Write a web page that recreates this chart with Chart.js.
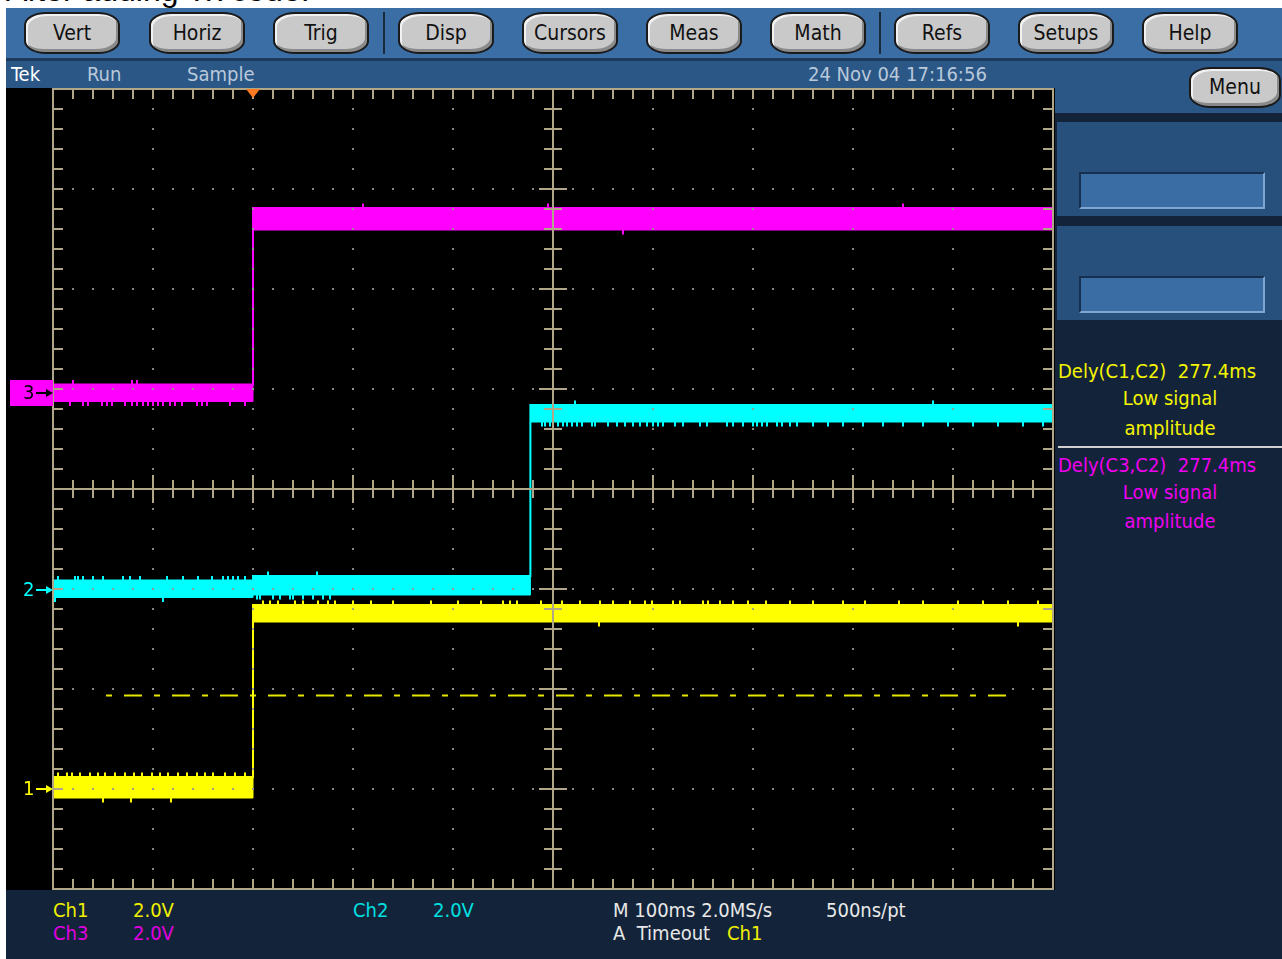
<!DOCTYPE html>
<html>
<head>
<meta charset="utf-8">
<script src="https://cdn.jsdelivr.net/npm/chart.js@4.4.1/dist/chart.umd.min.js"></script>
<style>
body{margin:0;width:1282px;height:959px;overflow:hidden;background:#fff;position:relative;
font-family:"Liberation Sans Narrow","DejaVu Sans Condensed","Arial Narrow",sans-serif;}
.abs{position:absolute;}
#caption{left:6px;top:0;width:600px;height:8px;overflow:hidden;}
#caption span{position:absolute;left:0;top:-28px;font:32px "Liberation Sans",Arial,sans-serif;color:#000;white-space:nowrap;}
#bar{left:6px;top:8px;width:1276px;height:50px;background:#3a6ea5;}
#barline{left:6px;top:58px;width:1276px;height:3px;background:#1b3a5e;}
#status{left:6px;top:61px;width:1276px;height:27px;background:#2b5787;}
#statusR{left:1055px;top:61px;width:227px;height:52px;background:#2b5787;}
#right{left:1055px;top:113px;width:227px;height:777px;background:#13243a;}
#bottom{left:6px;top:890px;width:1276px;height:69px;background:#13243a;}
.btn{position:absolute;height:38px;width:92px;background:#c9c9c9;border:2px solid #1a1a1a;
border-radius:22px/13px;box-shadow:inset 2px 2px 0 #f2f2f2,inset -2px -3px 0 #8a8a8a;
text-align:center;line-height:38px;font-size:21px;color:#111;}
.sep{position:absolute;top:12px;width:2px;height:42px;background:#1a2a3a;}
.txt{position:absolute;font-size:20px;white-space:nowrap;line-height:20px;}
.box{position:absolute;left:1057px;width:225px;height:94px;background:#27507c;}
.inner{position:absolute;left:1079px;width:186px;height:37px;background:#3a6da3;
border-top:2px solid #183050;border-left:2px solid #183050;border-bottom:2px solid #7fa6cf;border-right:2px solid #7fa6cf;box-sizing:border-box;}
#scope{position:absolute;left:6px;top:88px;}
</style>
</head>
<body>
<div id="caption" class="abs"><span>After adding Tx code.</span></div>
<div id="bar" class="abs"></div>
<div id="barline" class="abs"></div>
<div id="status" class="abs"></div>
<div id="statusR" class="abs"></div>
<div id="right" class="abs"></div>
<div id="bottom" class="abs"></div>

<div class="btn" style="left:24px;top:12px">Vert</div>
<div class="btn" style="left:149px;top:12px">Horiz</div>
<div class="btn" style="left:273px;top:12px">Trig</div>
<div class="sep" style="left:383px"></div>
<div class="btn" style="left:398px;top:12px">Disp</div>
<div class="btn" style="left:522px;top:12px">Cursors</div>
<div class="btn" style="left:646px;top:12px">Meas</div>
<div class="btn" style="left:770px;top:12px">Math</div>
<div class="sep" style="left:879px"></div>
<div class="btn" style="left:894px;top:12px">Refs</div>
<div class="btn" style="left:1018px;top:12px">Setups</div>
<div class="btn" style="left:1142px;top:12px">Help</div>

<div class="txt" style="left:11px;top:64px;color:#fff">Tek</div>
<div class="txt" style="left:87px;top:64px;color:#b9c9da">Run</div>
<div class="txt" style="left:187px;top:64px;color:#b9c9da">Sample</div>
<div class="txt" style="left:808px;top:64px;color:#b9c9da">24 Nov 04 17:16:56</div>
<div class="btn" style="left:1189px;top:67px;width:88px;height:37px;line-height:37px">Menu</div>

<div class="box" style="top:122px"></div>
<div class="inner" style="top:172px"></div>
<div class="box" style="top:226px"></div>
<div class="inner" style="top:276px"></div>

<div class="txt" style="left:1058px;top:361px;color:#f5f500">Dely(C1,C2)&nbsp;&nbsp;277.4ms</div>
<div class="txt" style="left:1058px;top:388px;width:224px;text-align:center;color:#f5f500">Low signal</div>
<div class="txt" style="left:1058px;top:418px;width:224px;text-align:center;color:#f5f500">amplitude</div>
<div class="abs" style="left:1058px;top:446px;width:224px;height:2px;background:#d0d0d0"></div>
<div class="txt" style="left:1058px;top:455px;color:#f000f0">Dely(C3,C2)&nbsp;&nbsp;277.4ms</div>
<div class="txt" style="left:1058px;top:482px;width:224px;text-align:center;color:#f000f0">Low signal</div>
<div class="txt" style="left:1058px;top:511px;width:224px;text-align:center;color:#f000f0">amplitude</div>

<div class="txt" style="left:53px;top:900px;color:#f0f000">Ch1</div>
<div class="txt" style="left:133px;top:900px;color:#f0f000">2.0V</div>
<div class="txt" style="left:53px;top:923px;color:#e000e0">Ch3</div>
<div class="txt" style="left:133px;top:923px;color:#e000e0">2.0V</div>
<div class="txt" style="left:353px;top:900px;color:#00e0e0">Ch2</div>
<div class="txt" style="left:433px;top:900px;color:#00e0e0">2.0V</div>
<div class="txt" style="left:613px;top:900px;color:#e8e8e8">M 100ms 2.0MS/s</div>
<div class="txt" style="left:826px;top:900px;color:#e8e8e8">500ns/pt</div>
<div class="txt" style="left:613px;top:923px;color:#e8e8e8">A&nbsp;&nbsp;Timeout</div>
<div class="txt" style="left:727px;top:923px;color:#f0f000">Ch1</div>

<canvas id="scope" width="1049" height="802"></canvas>

<script>
// horizontal: 100 ms/div, 10 divs; vertical: 2.0 V/div, 8 divs
var msPerDiv = 100;
var voltsPerDiv = 2.0;

// ground marker position of each channel, in divisions from centre
var ch1Offset = -3.0;
var ch2Offset = -1.01;
var ch3Offset = 0.96;

// measured delay between the edges
var delayMs = 277.4;
var ch1Edge = 200;

// ch1 (yellow)
var ch1Time  = [0, ch1Edge, 1000];
var ch1Level = [0.03, 3.51, 3.51];
var ch1Noise = [0.21, 0.17, 0.17];
var ch1SpikeUp = [5, 14, 19, 27, 37, 45, 52, 62, 72, 81, 89, 99, 107, 115, 125, 134, 144, 152, 160, 172, 182, 192,
  210, 217, 225, 242, 250, 265, 275, 282, 300, 318, 340, 378, 405, 428, 450, 457, 464, 488, 509, 527, 547, 560,
  577, 592, 599, 620, 627, 650, 655, 667, 680, 695, 713, 737, 760, 790, 812, 846, 870, 905, 930, 955, 985];
var ch1SpikeDown = [50, 78, 118, 546, 965];

// ch2 (cyan)
var ch2Time  = [0, 200, ch1Edge + delayMs, 1000];
var ch2Level = [0.02, 0.09, 3.53, 3.53];
var ch2Noise = [0.17, 0.19, 0.17, 0.17];
var ch2SpikeUp = [5, 22, 25, 30, 40, 50, 70, 77, 87, 114, 130, 145, 159, 170, 175, 180, 185, 192, 215, 264, 522, 880];
var ch2SpikeDown = [2, 110, 204, 207, 220, 227, 237, 240, 250, 260, 270, 277, 489, 492, 497, 505, 510, 514, 519,
  524, 529, 539, 542, 555, 564, 572, 580, 587, 594, 600, 605, 610, 622, 630, 647, 654, 674, 680, 690, 700, 704,
  709, 714, 724, 729, 737, 744, 760, 775, 790, 810, 830, 850, 870, 895, 920, 945, 970, 990];

// ch3 (magenta)
var ch3Time  = [0, 200, 1000];
var ch3Level = [0.0, 3.48, 3.48];
var ch3Noise = [0.17, 0.22, 0.22];
var ch3SpikeUp = [20, 79, 84, 310, 495, 850];
var ch3SpikeDown = [17, 30, 35, 49, 54, 59, 72, 79, 84, 90, 95, 100, 105, 110, 117, 122, 129, 144, 149, 154, 177, 192, 570];

// trigger level on ch1
var trigLevel = 1.87;
var trigSpan = [53, 955];

var YELLOW = '#ffff00', CYAN = '#00ffff', MAGENTA = '#ff00ff';
var GRAT = 'rgba(176,166,136,1)';

function edge(times, levels, noise, sign){
  return times.map(function(t, i){ return {x: t, y: levels[i] + sign * noise[i]}; });
}

// index of the step that holds at time t
function stepAt(times, t){
  var k = 0;
  for (var i = 0; i < times.length; i++) if (times[i] <= t) k = i;
  return k;
}

function bandSets(times, levels, noise, color, axis){
  return [
    {data: edge(times, levels, noise, 1), yAxisID: axis, borderColor: color, borderWidth: 2,
     stepped: true, pointRadius: 0, fill: false},
    {data: edge(times, levels, noise, -1), yAxisID: axis, borderColor: color, borderWidth: 1,
     stepped: true, pointRadius: 0, fill: '-1', backgroundColor: color}
  ];
}

// short glitches sticking out of the band edge
function spikeSet(times, levels, noise, spikes, sign, color, axis){
  return {
    type: 'scatter', yAxisID: axis,
    data: spikes.map(function(t){
      var k = stepAt(times, t);
      return {x: t, y: levels[k] + sign * (noise[k] + 0.04)};
    }),
    pointStyle: 'line', rotation: 90, pointRadius: 2.5, borderWidth: 2,
    borderColor: color, backgroundColor: color, showLine: false
  };
}

function chAxis(off){
  return {type: 'linear', display: false, min: (-4 - off) * voltsPerDiv, max: (4 - off) * voltsPerDiv};
}

// graticule, channel markers, trigger marker
var scopePlugin = {
  id: 'scope',
  afterDatasetsDraw: function(chart){
    var ctx = chart.ctx, a = chart.chartArea;
    var xs = chart.scales.x, ys = chart.scales.y;
    ctx.save();
    // dotted division lines
    ctx.fillStyle = 'rgba(150,150,150,0.9)';
    for (var d = 1; d < 10; d++){
      if (d === 5) continue;
      var px = Math.round(xs.getPixelForValue(d * msPerDiv));
      for (var v = -4; v <= 4.001; v += 0.2){
        ctx.fillRect(px - 1, Math.round(ys.getPixelForValue(v)) - 1, 2, 2);
      }
    }
    for (var dv = -3; dv <= 3; dv++){
      if (dv === 0) continue;
      var py = Math.round(ys.getPixelForValue(dv));
      for (var t = 0; t <= 1000; t += 20){
        ctx.fillRect(Math.round(xs.getPixelForValue(t)) - 1, py - 1, 2, 2);
      }
    }
    ctx.strokeStyle = GRAT;
    ctx.lineWidth = 2;
    // centre lines
    var cx = Math.round(xs.getPixelForValue(500)), cy = Math.round(ys.getPixelForValue(0));
    ctx.beginPath();
    ctx.moveTo(a.left, cy); ctx.lineTo(a.right, cy);
    ctx.moveTo(cx, a.top); ctx.lineTo(cx, a.bottom);
    for (var t2 = 20; t2 < 1000; t2 += 20){
      var x2 = Math.round(xs.getPixelForValue(t2));
      var h = (t2 % 100 === 0) ? 14 : 9;
      ctx.moveTo(x2, cy - h); ctx.lineTo(x2, cy + h);
      // border ticks
      ctx.moveTo(x2, a.top); ctx.lineTo(x2, a.top + 10);
      ctx.moveTo(x2, a.bottom); ctx.lineTo(x2, a.bottom - 10);
    }
    for (var v2 = -3.8; v2 < 4; v2 += 0.2){
      var y2 = Math.round(ys.getPixelForValue(v2));
      var w = (Math.abs(Math.round(v2 * 5)) % 5 === 0) ? 14 : 9;
      ctx.moveTo(cx - w, y2); ctx.lineTo(cx + w, y2);
      ctx.moveTo(a.left, y2); ctx.lineTo(a.left + 10, y2);
      ctx.moveTo(a.right, y2); ctx.lineTo(a.right - 10, y2);
    }
    ctx.stroke();
    ctx.strokeRect(a.left, a.top, a.right - a.left, a.bottom - a.top);

    // trigger position marker
    var tx = xs.getPixelForValue(ch1Edge);
    ctx.fillStyle = '#ff7a22';
    ctx.beginPath();
    ctx.moveTo(tx - 7, a.top); ctx.lineTo(tx + 7, a.top); ctx.lineTo(tx, a.top + 9);
    ctx.closePath(); ctx.fill();

    // channel ground markers
    ctx.font = '20px "Liberation Sans Narrow","DejaVu Sans Condensed",sans-serif';
    ctx.textBaseline = 'middle';
    var marks = [['1', 'y1', YELLOW, false], ['2', 'y2', CYAN, false], ['3', 'y3', MAGENTA, true]];
    marks.forEach(function(m){
      var gy = Math.round(chart.scales[m[1]].getPixelForValue(0));
      var fg = m[2];
      if (m[3]){
        ctx.fillStyle = m[2];
        ctx.fillRect(4, gy - 13, a.left - 4, 26);
        fg = '#000';
      }
      ctx.fillStyle = fg;
      ctx.fillText(m[0], 17, gy + 1);
      ctx.strokeStyle = fg; ctx.lineWidth = 2;
      ctx.beginPath(); ctx.moveTo(30, gy); ctx.lineTo(a.left - 2, gy); ctx.stroke();
      ctx.beginPath(); ctx.moveTo(a.left, gy); ctx.lineTo(a.left - 7, gy - 4); ctx.lineTo(a.left - 7, gy + 4);
      ctx.closePath(); ctx.fill();
    });
    ctx.restore();
  }
};

var datasets = []
  .concat(bandSets(ch3Time, ch3Level, ch3Noise, MAGENTA, 'y3'))
  .concat(bandSets(ch2Time, ch2Level, ch2Noise, CYAN, 'y2'))
  .concat(bandSets(ch1Time, ch1Level, ch1Noise, YELLOW, 'y1'));
datasets.push(
  spikeSet(ch3Time, ch3Level, ch3Noise, ch3SpikeUp, 1, MAGENTA, 'y3'),
  spikeSet(ch3Time, ch3Level, ch3Noise, ch3SpikeDown, -1, MAGENTA, 'y3'),
  spikeSet(ch2Time, ch2Level, ch2Noise, ch2SpikeUp, 1, CYAN, 'y2'),
  spikeSet(ch2Time, ch2Level, ch2Noise, ch2SpikeDown, -1, CYAN, 'y2'),
  spikeSet(ch1Time, ch1Level, ch1Noise, ch1SpikeUp, 1, YELLOW, 'y1'),
  spikeSet(ch1Time, ch1Level, ch1Noise, ch1SpikeDown, -1, YELLOW, 'y1')
);
datasets.push({
  data: [{x: trigSpan[0], y: trigLevel}, {x: trigSpan[1], y: trigLevel}],
  yAxisID: 'y1', borderColor: '#e6e600', borderWidth: 2, pointRadius: 0,
  borderDash: [18, 12, 6, 12], borderDashOffset: 30, fill: false
});

new Chart(document.getElementById('scope'), {
  type: 'line',
  data: {datasets: datasets},
  options: {
    responsive: false,
    animation: false,
    parsing: false,
    layout: {autoPadding: false, padding: {left: 47, top: 1, right: 2, bottom: 1}},
    plugins: {legend: {display: false}, tooltip: {enabled: false}},
    scales: {
      x: {type: 'linear', display: false, min: 0, max: 10 * msPerDiv},
      y: {type: 'linear', display: false, min: -4, max: 4},
      y1: chAxis(ch1Offset),
      y2: chAxis(ch2Offset),
      y3: chAxis(ch3Offset)
    }
  },
  plugins: [{id: 'bg', beforeDraw: function(c){ c.ctx.fillStyle = '#000'; c.ctx.fillRect(0, 0, c.width, c.height); }}, scopePlugin]
});
</script>
</body>
</html>
